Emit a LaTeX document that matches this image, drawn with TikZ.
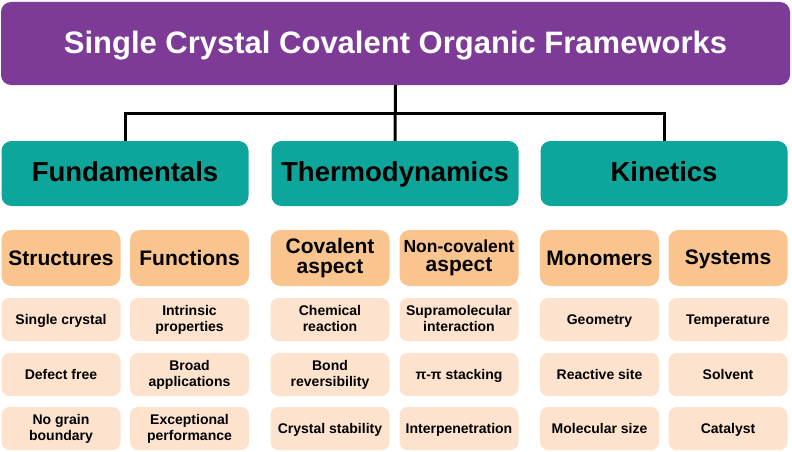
\documentclass[tikz,border=0pt]{standalone}
\usepackage{fontspec}
\setmainfont{Liberation Sans}

\definecolor{cofpurple}{HTML}{7D3A96}
\definecolor{cofteal}{HTML}{0EA59A}
\definecolor{headorange}{HTML}{F9C48E}
\definecolor{itempeach}{HTML}{FDE3CD}

\newcommand\headstrut{\rule[-2.25pt]{0pt}{19.5pt}}
\newcommand\itemstrut{\rule[-3pt]{0pt}{16pt}}

\tikzset{
  box/.style={rounded corners=10pt, align=center, inner sep=0pt},
  titlebox/.style={box, fill=cofpurple, text=white, minimum width=789pt,
    minimum height=83pt, text height=25pt, text depth=6pt,
    font=\fontsize{31}{33}\selectfont\bfseries},
  catbox/.style={box, fill=cofteal, minimum width=247pt, minimum height=65pt,
    text height=21pt, text depth=5pt, font=\fontsize{27.5}{30}\selectfont\bfseries},
  headbox/.style={box, fill=headorange, minimum width=119pt, minimum height=56pt,
    execute at begin node=\headstrut, execute at end node=\headstrut,
    font=\fontsize{21}{19.5}\selectfont\bfseries},
  itembox/.style={box, rounded corners=8pt, fill=itempeach, minimum width=119pt,
    minimum height=43pt, execute at begin node=\itemstrut, execute at end node=\itemstrut,
    font=\fontsize{14}{16}\selectfont\bfseries},
  link/.style={line width=3pt, black}
}

\begin{document}
\begin{tikzpicture}[x=1pt, y=-1pt]
    \useasboundingbox (0,0) rectangle (792,452);

    % Title
    \node[titlebox] (title) at (395.5,43.5) {Single Crystal Covalent Organic Frameworks};

    % Categories
    \node[catbox] (fund) at (125,173.5) {Fundamentals};
    \node[catbox] (thermo) at (395,173.5) {Thermodynamics};
    \node[catbox] (kin) at (664,173.5) {Kinetics};

    % Connectors
    \coordinate (junc) at (395,113);
    \draw[link] (title.south) -- (thermo.north);
    \draw[link] (fund.north) |- (junc) -| (kin.north);

    % Headers
    \foreach \n/\x/\t in {struct/61/Structures, func/189.5/Functions,
        coval/330/Covalent\\aspect,
        noncov/459/{\fontsize{17.5}{19.5}\selectfont Non-covalent}\\aspect,
        mono/599.5/Monomers, sys/728/Systems} {
        \node[headbox] (\n) at (\x,258) {\t};
    }

    % Items
    \foreach \n/\x/\a/\b/\c in {
        struct/61/Single crystal/Defect free/No grain\\boundary,
        func/189.5/Intrinsic\\properties/Broad\\applications/Exceptional\\performance,
        coval/330/Chemical\\reaction/Bond\\reversibility/Crystal stability,
        noncov/459/Supramolecular\\interaction/π-π stacking/Interpenetration,
        mono/599.5/Geometry/Reactive site/Molecular size,
        sys/728/Temperature/Solvent/Catalyst} {
        \node[itembox] (\n1) at (\x,319.5) {\a};
        \node[itembox] (\n2) at (\x,374.5) {\b};
        \node[itembox] (\n3) at (\x,428.5) {\c};
    }
\end{tikzpicture}
\end{document}
